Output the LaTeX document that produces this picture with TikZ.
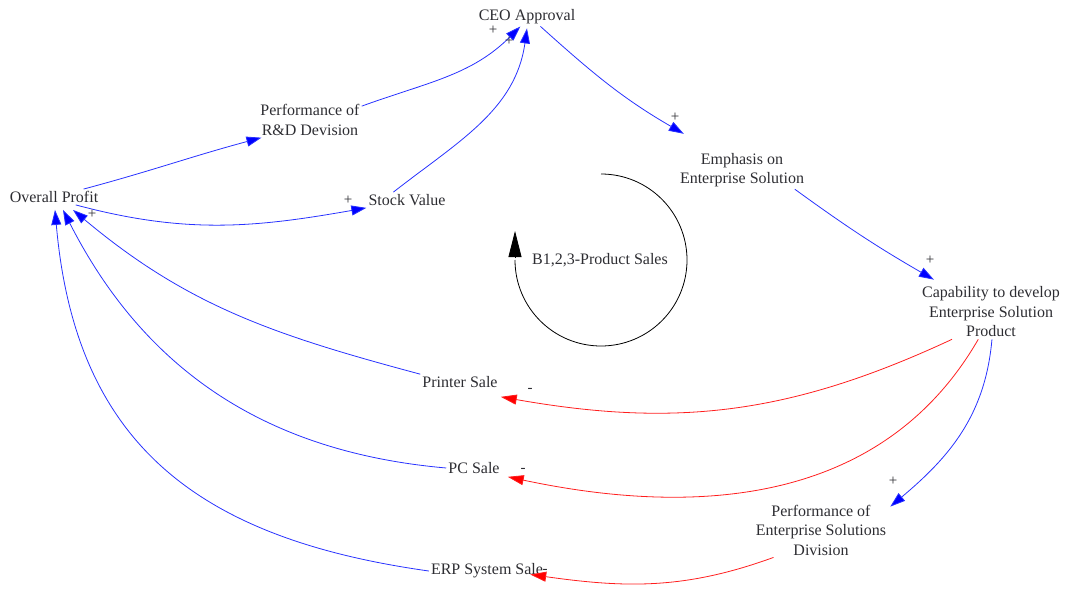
\documentclass[tikz,border=0pt]{standalone}
\usepackage{fontspec}
\setmainfont{Liberation Serif}
\usetikzlibrary{arrows.meta,calc}
\definecolor{lnblue}{RGB}{40,50,255}
\definecolor{lnred}{RGB}{255,30,30}
\definecolor{txt}{RGB}{45,45,50}
\begin{document}
\begin{tikzpicture}[x=1pt,y=1pt,
  lbl/.style={font=\fontsize{16}{19.5}\selectfont, text=txt, align=center, inner sep=2pt},
  pol/.style={font=\fontsize{15}{15}\selectfont, text=txt, inner sep=0pt},
  poslink/.style={draw=lnblue, line width=0.8pt, -{Triangle[length=15pt,width=10pt,fill=blue]}},
  neglink/.style={draw=lnred, line width=0.8pt, -{Triangle[length=16pt,width=10pt,fill=red]}},
  looparrow/.style={draw=black, line width=0.8pt, -{Triangle[length=26pt,width=13pt]}}
]
\useasboundingbox (0,0) rectangle (1071,-594);

% nodes
\node[lbl] (ceo) at (527,-17) {CEO Approval};
\node[lbl] (rd) at (310,-120) {Performance of\\R\&D Devision};
\node[lbl] (ovp) at (54,-197) {Overall Profit};
\node[lbl] (stock) at (407,-200) {Stock Value};
\node[lbl] (emph) at (742,-170) {Emphasis on\\Enterprise Solution};
\node[lbl] (loop) at (600,-260) {B1,2,3-Product Sales};
\node[lbl] (cap) at (991,-312) {Capability to develop\\Enterprise Solution\\Product};
\node[lbl] (printer) at (460,-382) {Printer Sale};
\node[lbl] (pc) at (474,-468) {PC Sale};
\node[lbl] (erp) at (487,-571) {ERP System Sale};
\node[lbl] (esd) at (821,-530) {Performance of\\Enterprise Solutions\\Division};

% loop marker
\draw[line width=0.8pt] (601,-174) arc[start angle=90, end angle=-180, radius=86];
\draw[looparrow] (515,-258) -- (515,-231);

% positive links
\draw[poslink] (ovp.15) to[out=15,in=195] (rd.200);
\draw[poslink] (rd.15) to[out=20,in=225] (ceo.235);
\draw[poslink] (stock.150) to[out=38,in=262] ([yshift=-2]ceo.south);
\draw[poslink] (ceo.-35) to[out=-42,in=150] ([shift={(6,17)}]emph.north west);
\draw[poslink] (emph.-20) to[out=-36,in=150] ([shift={(14,5)}]cap.north west);
\draw[poslink] (ovp.-20) to[out=-15,in=190] (stock.south west);
\draw[poslink] (printer.north west) to[out=165,in=-40] ([shift={(19,-5)}]ovp.south);
\draw[poslink] (pc.west) to[out=175,in=-63] ([shift={(9,-5)}]ovp.south);
\draw[poslink] (erp.west) to[out=172,in=-85,looseness=1.15] ([shift={(1,-5)}]ovp.south);
\draw[poslink] (cap.-88) to[out=-95,in=40] ([shift={(2,-4)}]esd.north east);

% negative links
\draw[neglink] (cap.-145) to[out=-155,in=-10] ([shift={(1,-7)}]printer.south east);
\draw[neglink] (cap.-115) to[out=-120,in=-12] ([shift={(6,-1)}]pc.south east);
\draw[neglink] (esd.-150) to[out=200,in=-8] ([shift={(-15,6)}]erp.south east);

% polarity marks
\node[pol] (m1) at (493,-30) {+};
\node[pol] (m2) at (509,-41) {+};
\node[pol] (m3) at (675,-117) {+};
\node[pol] (m4) at (930,-260) {+};
\node[pol] (m5) at (348,-200) {+};
\node[pol] (m6) at (92,-214) {+};
\node[pol] (m7) at (893,-481) {+};
\node[pol] (m8) at (530,-390) {-};
\node[pol] (m9) at (523,-470) {-};
\node[pol] (m10) at (545,-571) {-};
\end{tikzpicture}
\end{document}
